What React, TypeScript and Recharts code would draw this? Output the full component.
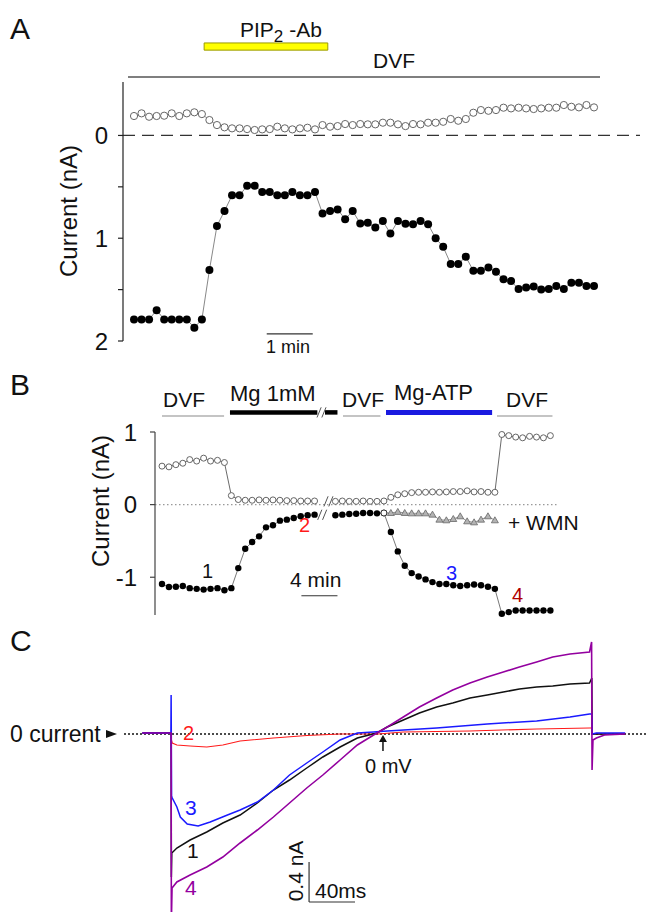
import React from 'react';
import { LineChart, Line, XAxis, YAxis, ReferenceLine, ReferenceArea, ReferenceDot } from 'recharts';

const FONT = '"Liberation Sans", Arial, Helvetica, sans-serif';

// ---- Panel A: current per sweep (nA, inward plotted downward) ----
const aFilled = [1.79, 1.79, 1.79, 1.7, 1.79, 1.79, 1.79, 1.79, 1.87, 1.79, 1.31, 0.88, 0.735, 0.583, 0.583, 0.49, 0.49, 0.55, 0.55, 0.583, 0.583, 0.55, 0.583, 0.583, 0.55, 0.76, 0.735, 0.72, 0.815, 0.735, 0.857, 0.85, 0.896, 0.832, 0.955, 0.832, 0.86, 0.865, 0.832, 0.865, 1.0, 1.084, 1.25, 1.25, 1.18, 1.317, 1.317, 1.285, 1.327, 1.398, 1.417, 1.495, 1.48, 1.47, 1.5, 1.495, 1.466, 1.495, 1.434, 1.434, 1.466, 1.466];
const aOpen = [-0.189, -0.215, -0.182, -0.189, -0.192, -0.215, -0.189, -0.215, -0.225, -0.208, -0.15, -0.101, -0.079, -0.069, -0.069, -0.062, -0.053, -0.059, -0.062, -0.085, -0.069, -0.059, -0.069, -0.075, -0.059, -0.101, -0.085, -0.091, -0.111, -0.101, -0.111, -0.108, -0.108, -0.124, -0.124, -0.108, -0.091, -0.111, -0.108, -0.124, -0.124, -0.133, -0.16, -0.143, -0.16, -0.221, -0.247, -0.24, -0.247, -0.27, -0.263, -0.27, -0.263, -0.257, -0.263, -0.27, -0.27, -0.296, -0.279, -0.273, -0.296, -0.273];
const aPipWindow = [9.3, 25.7];
const aDvfWindow = [-0.8, 61.8];
const aMinuteBar = [17.6, 23.7];

// ---- Panel B ----
const bFilled = [-1.094, -1.135, -1.13, -1.12, -1.15, -1.16, -1.17, -1.16, -1.15, -1.18, -1.15, -0.874, -0.607, -0.515, -0.437, -0.313, -0.285, -0.221, -0.207, -0.184, -0.161, -0.147, -0.138, null, null, -0.147, -0.138, -0.13, -0.125, -0.115, -0.115, -0.12, -0.115, -0.377, -0.644, -0.841, -0.943, -0.989, -1.03, -1.067, -1.094, -1.094, -1.11, -1.12, -1.11, -1.1, -1.11, -1.13, -1.16, -1.503, -1.48, -1.458, -1.458, -1.458, -1.458, -1.458, -1.458];
const bOpen = [0.53, 0.52, 0.55, 0.57, 0.62, 0.6, 0.64, 0.6, 0.61, 0.58, 0.124, 0.07, 0.06, 0.06, 0.065, 0.06, 0.065, 0.06, 0.055, 0.055, 0.05, 0.05, 0.05, null, null, 0.045, 0.05, 0.045, 0.045, 0.05, 0.045, 0.045, 0.05, 0.1, 0.135, 0.15, 0.165, 0.17, 0.17, 0.175, 0.17, 0.175, 0.18, 0.18, 0.19, 0.175, 0.18, 0.17, 0.17, 0.966, 0.95, 0.93, 0.92, 0.94, 0.93, 0.92, 0.95];
const wmnStart = 32;
const bWmn = [-0.115, -0.115, -0.1, -0.115, -0.12, -0.12, -0.12, -0.138, -0.207, -0.216, -0.198, -0.161, -0.23, -0.244, -0.207, -0.161, -0.216];
const bPeriods = [
  { kind: 'dvf', from: 0, to: 8.95 },
  { kind: 'mg', from: 9.8, to: 22.4 },
  { kind: 'mg', from: 23.5, to: 25.3 },
  { kind: 'dvf', from: 26.1, to: 31.5 },
  { kind: 'atp', from: 32.3, to: 47.6 },
  { kind: 'dvf', from: 48.3, to: 56.3 },
];
const bBreaks = [{ x: 23.0, y: 1.27 }, { x: 24.0, y: 0.045 }, { x: 23.1, y: -0.14 }];
const bMinuteBar = [20.1, 25.3];

// ---- Panel C: ramp current traces [ms, nA] ----
const trace1 = [[-25, 0.01], [0, 0.01], [0.2, -1.43], [0.6, -1.19], [5, -1.14], [16.5, -1.06], [31, -0.98], [45, -0.89], [60, -0.81], [75, -0.69], [89, -0.56], [103, -0.46], [118, -0.34], [132, -0.23], [147, -0.13], [162, -0.04], [179, 0.01], [188, 0.07], [202, 0.14], [216, 0.21], [231, 0.27], [245, 0.31], [260, 0.36], [275, 0.39], [289, 0.42], [303, 0.45], [318, 0.47], [332, 0.48], [347, 0.5], [364, 0.51], [366, 0.56], [366.3, 0], [395, 0]];
const trace2 = [[-25, 0.01], [0, 0.01], [0.3, -0.06], [1, -0.09], [5, -0.11], [16.5, -0.12], [31, -0.13], [45, -0.11], [60, -0.07], [89, -0.04], [118, -0.015], [147, 0], [180, 0], [202, 0.02], [260, 0.03], [318, 0.05], [364, 0.06], [366, 0.06], [366.3, 0], [395, 0]];
const trace3 = [[-25, 0.01], [-0.2, 0.01], [0, 0.39], [0.4, -0.62], [1, -0.64], [5, -0.73], [8, -0.83], [14, -0.9], [23.5, -0.92], [34, -0.88], [49, -0.81], [60, -0.76], [75, -0.68], [89, -0.56], [103, -0.41], [118, -0.29], [132, -0.18], [147, -0.06], [162, 0.01], [176, 0.02], [188, 0.03], [231, 0.06], [275, 0.1], [318, 0.13], [347, 0.17], [364, 0.2], [366, 0.2], [366.3, 0], [370, 0.01], [395, 0.01]];
const trace4 = [[-25, 0.01], [0, 0.01], [0.2, -1.9], [0.8, -1.54], [5, -1.48], [16.5, -1.41], [31, -1.33], [45, -1.23], [60, -1.09], [75, -0.96], [89, -0.83], [103, -0.69], [118, -0.54], [132, -0.41], [147, -0.26], [162, -0.11], [179, 0.01], [188, 0.07], [202, 0.17], [216, 0.27], [231, 0.36], [245, 0.44], [260, 0.51], [275, 0.57], [289, 0.62], [303, 0.67], [318, 0.72], [332, 0.77], [347, 0.8], [364, 0.82], [365.8, 0.92], [366.2, -0.36], [367, -0.06], [370, -0.04], [377, -0.01], [395, 0]];
const zeroMv = 184.3;
const cScaleT = [120, 160];
const cScaleI = [-1.28, -1.68];

const aData = aFilled.map((v, i) => ({ i, filled: v, open: aOpen[i] }));
const bData = bFilled.map((v, i) => ({
  i,
  filled: v,
  open: bOpen[i],
  wmn: i >= wmnStart && i < wmnStart + bWmn.length ? bWmn[i - wmnStart] : null,
}));
const toPts = (tr: number[][]) => tr.map(([t, v]) => ({ t, v }));

type NoteProps = { x: number; y: number; size?: number; color?: string; children: React.ReactNode };
const Note = ({ x, y, size = 21, color = '#111', children }: NoteProps) => (
  <div style={{ position: 'absolute', left: x, top: y - 0.85 * size, fontSize: size, lineHeight: 1, color, fontFamily: FONT, whiteSpace: 'nowrap' }}>
    {children}
  </div>
);
const VNote = ({ cx, cy, size, children }: { cx: number; cy: number; size: number; children: React.ReactNode }) => (
  <div style={{ position: 'absolute', left: cx, top: cy, fontSize: size, lineHeight: 1, color: '#111', fontFamily: FONT, whiteSpace: 'nowrap', transform: 'translate(-50%, -50%) rotate(-90deg)' }}>
    {children}
  </div>
);

const tickStyle = { fontSize: 24, fill: '#111', fontFamily: FONT };

const WmnDot = (p: any) => {
  const { cx, cy, index, payload } = p;
  if (cx == null || cy == null || payload == null || payload.wmn == null) return <g key={`w${index}`} />;
  if (payload.i === wmnStart) return <circle key={`w${index}`} cx={cx} cy={cy} r={3} fill="#fff" stroke="#333" strokeWidth={1} />;
  return <path key={`w${index}`} d={`M${cx},${cy - 3.5}L${cx + 3.5},${cy + 2.5}L${cx - 3.5},${cy + 2.5}Z`} fill="#b3b3b3" stroke="#666" strokeWidth={0.8} />;
};

const periodStyle: Record<string, { color: string; width: number; level: number }> = {
  dvf: { color: '#b0b0b0', width: 1.5, level: 1.22 },
  mg: { color: '#000', width: 4.5, level: 1.27 },
  atp: { color: '#1a1ae0', width: 5, level: 1.27 },
};

const PanelA = () => (
  <div style={{ position: 'absolute', left: 40, top: 30 }}>
    <LineChart width={600} height={325} data={aData} margin={{ top: 52, right: 0, bottom: 14, left: 0 }}>
      <XAxis dataKey="i" type="number" domain={[-1.46, 67.1]} hide />
      <YAxis
        type="number"
        reversed
        domain={[-0.52, 2]}
        ticks={[0, 0.5, 1, 1.5, 2]}
        width={83}
        tickSize={5}
        tickMargin={10}
        tick={tickStyle}
        tickFormatter={(v: number) => (v % 1 === 0 ? String(v) : '')}
        axisLine={{ stroke: '#222', strokeWidth: 1.2 }}
        tickLine={{ stroke: '#222', strokeWidth: 1.2 }}
      />
      <ReferenceLine y={0} stroke="#333" strokeDasharray="12 7" strokeWidth={1.3} />
      <ReferenceArea x1={aPipWindow[0]} x2={aPipWindow[1]} y1={-0.9} y2={-0.83} fill="#ffff00" fillOpacity={1} stroke="#9a9a00" strokeWidth={1} ifOverflow="visible" />
      <ReferenceLine segment={[{ x: aDvfWindow[0], y: -0.568 }, { x: aDvfWindow[1], y: -0.568 }]} stroke="#555" strokeWidth={1.5} ifOverflow="visible" />
      <ReferenceLine segment={[{ x: aMinuteBar[0], y: 1.93 }, { x: aMinuteBar[1], y: 1.93 }]} stroke="#333" strokeWidth={1.2} ifOverflow="visible" />
      <Line dataKey="open" stroke="#888" strokeWidth={0.8} dot={{ r: 3.6, fill: '#fff', stroke: '#666', strokeWidth: 1 }} activeDot={false} isAnimationActive={false} />
      <Line dataKey="filled" stroke="#888" strokeWidth={1} dot={{ r: 4, fill: '#000', stroke: '#000', strokeWidth: 0 }} activeDot={false} isAnimationActive={false} />
    </LineChart>
  </div>
);

const PanelB = () => (
  <div style={{ position: 'absolute', left: 70, top: 400 }}>
    <LineChart width={488} height={225} data={bData} margin={{ top: 32, right: 0, bottom: 10, left: 0 }}>
      <XAxis dataKey="i" type="number" domain={[-1.01, 57.1]} hide />
      <YAxis
        type="number"
        domain={[-1.52, 1]}
        ticks={[-1, 0, 1]}
        width={85}
        tickSize={5}
        tickMargin={13}
        tick={tickStyle}
        axisLine={{ stroke: '#444', strokeWidth: 1.2 }}
        tickLine={{ stroke: '#444', strokeWidth: 1.2 }}
      />
      <ReferenceLine y={0} stroke="#999" strokeDasharray="1.5 2.5" strokeWidth={1.2} />
      {bPeriods.map((p, k) => {
        const s = periodStyle[p.kind];
        return (
          <ReferenceLine key={`p${k}`} segment={[{ x: p.from, y: s.level }, { x: p.to, y: s.level }]} stroke={s.color} strokeWidth={s.width} ifOverflow="visible" />
        );
      })}
      {bBreaks.flatMap((b, k) =>
        [-0.35, 0.35].map((o, j) => (
          <ReferenceLine key={`b${k}${j}`} segment={[{ x: b.x + o - 0.3, y: b.y - 0.07 }, { x: b.x + o + 0.3, y: b.y + 0.07 }]} stroke="#555" strokeWidth={1} ifOverflow="visible" />
        ))
      )}
      <ReferenceLine segment={[{ x: bMinuteBar[0], y: -1.255 }, { x: bMinuteBar[1], y: -1.255 }]} stroke="#333" strokeWidth={1.2} ifOverflow="visible" />
      <Line dataKey="open" stroke="#444" strokeWidth={0.8} dot={{ r: 3, fill: '#fff', stroke: '#555', strokeWidth: 0.9 }} activeDot={false} isAnimationActive={false} />
      <Line dataKey="filled" stroke="#555" strokeWidth={0.8} dot={{ r: 3.2, fill: '#000', stroke: '#000', strokeWidth: 0 }} activeDot={false} isAnimationActive={false} />
      <Line dataKey="wmn" stroke="#777" strokeWidth={0.8} dot={WmnDot} activeDot={false} isAnimationActive={false} />
    </LineChart>
  </div>
);

const MvArrow = (p: any) => (
  <g>
    <path d={`M${p.cx},${p.cy + 1}L${p.cx - 4},${p.cy + 8}L${p.cx + 4},${p.cy + 8}Z`} fill="#111" />
    <line x1={p.cx} x2={p.cx} y1={p.cy + 8} y2={p.cy + 17} stroke="#111" strokeWidth={1.5} />
  </g>
);

const PanelC = () => (
  <div style={{ position: 'absolute', left: 124, top: 630 }}>
    <LineChart width={523} height={282} margin={{ top: 10, right: 0, bottom: 0, left: 0 }}>
      <XAxis dataKey="t" type="number" domain={[-41, 414]} hide allowDataOverflow />
      <YAxis type="number" domain={[-1.78, 0.94]} hide allowDataOverflow />
      <ReferenceLine y={0} stroke="#111" strokeDasharray="2 2" strokeWidth={1.6} />
      <Line data={toPts(trace2)} dataKey="v" stroke="#ff1a1a" strokeWidth={1.1} dot={false} activeDot={false} isAnimationActive={false} />
      <Line data={toPts(trace1)} dataKey="v" stroke="#111" strokeWidth={1.5} dot={false} activeDot={false} isAnimationActive={false} />
      <Line data={toPts(trace3)} dataKey="v" stroke="#1a1aff" strokeWidth={1.5} dot={false} activeDot={false} isAnimationActive={false} />
      <Line data={toPts(trace4)} dataKey="v" stroke="#93009f" strokeWidth={1.6} dot={false} activeDot={false} isAnimationActive={false} />
      <ReferenceDot x={zeroMv} y={0} ifOverflow="visible" shape={MvArrow} />
      <ReferenceLine segment={[{ x: cScaleT[0], y: cScaleI[0] }, { x: cScaleT[0], y: cScaleI[1] }]} stroke="#333" strokeWidth={1.2} ifOverflow="visible" />
      <ReferenceLine segment={[{ x: cScaleT[0], y: cScaleI[1] }, { x: cScaleT[1], y: cScaleI[1] }]} stroke="#333" strokeWidth={1.2} ifOverflow="visible" />
    </LineChart>
  </div>
);

export default function App() {
  return (
    <div style={{ position: 'absolute', left: 0, top: 0, width: 647, height: 912, background: '#fff', overflow: 'hidden', fontFamily: FONT }}>
      <PanelA />
      <PanelB />
      <PanelC />

      {/* Panel A text */}
      <Note x={10} y={39} size={30}>A</Note>
      <Note x={240} y={37} size={21}>
        PIP<span style={{ fontSize: 17, position: 'relative', top: 5 }}>2</span> -Ab
      </Note>
      <Note x={373} y={68} size={21}>DVF</Note>
      <Note x={266} y={353} size={18}>1 min</Note>
      <VNote cx={69} cy={211} size={24}>Current (nA)</VNote>

      {/* Panel B text */}
      <Note x={10} y={395} size={30}>B</Note>
      <Note x={163} y={407} size={21}>DVF</Note>
      <Note x={230} y={402} size={22}>Mg 1mM</Note>
      <Note x={342} y={407} size={21}>DVF</Note>
      <Note x={394} y={401} size={22}>Mg-ATP</Note>
      <Note x={506} y={407} size={21}>DVF</Note>
      <VNote cx={101} cy={501} size={24}>Current (nA)</VNote>
      <Note x={202} y={578} size={20}>1</Note>
      <Note x={299} y={532} size={20} color="#ff1a1a">2</Note>
      <Note x={446} y={580} size={20} color="#1a1aff">3</Note>
      <Note x={512} y={602} size={20} color="#b00000">4</Note>
      <Note x={290} y={587} size={21}>4  min</Note>
      <Note x={508} y={530} size={21}>+ WMN</Note>

      {/* Panel C text */}
      <Note x={10} y={651} size={30}>C</Note>
      <Note x={10} y={743} size={23}>0 current</Note>
      <div style={{ position: 'absolute', left: 106, top: 730, width: 0, height: 0, borderTop: '4px solid transparent', borderBottom: '4px solid transparent', borderLeft: '11px solid #111' }} />
      <Note x={183} y={740} size={20} color="#ff1a1a">2</Note>
      <Note x={185} y={815} size={21} color="#1a1aff">3</Note>
      <Note x={187} y={858} size={21}>1</Note>
      <Note x={185} y={895} size={21} color="#93009f">4</Note>
      <Note x={365} y={773} size={20}>0 mV</Note>
      <Note x={315} y={898} size={21}>40ms</Note>
      <VNote cx={295} cy={871} size={21}>0.4 nA</VNote>
    </div>
  );
}
